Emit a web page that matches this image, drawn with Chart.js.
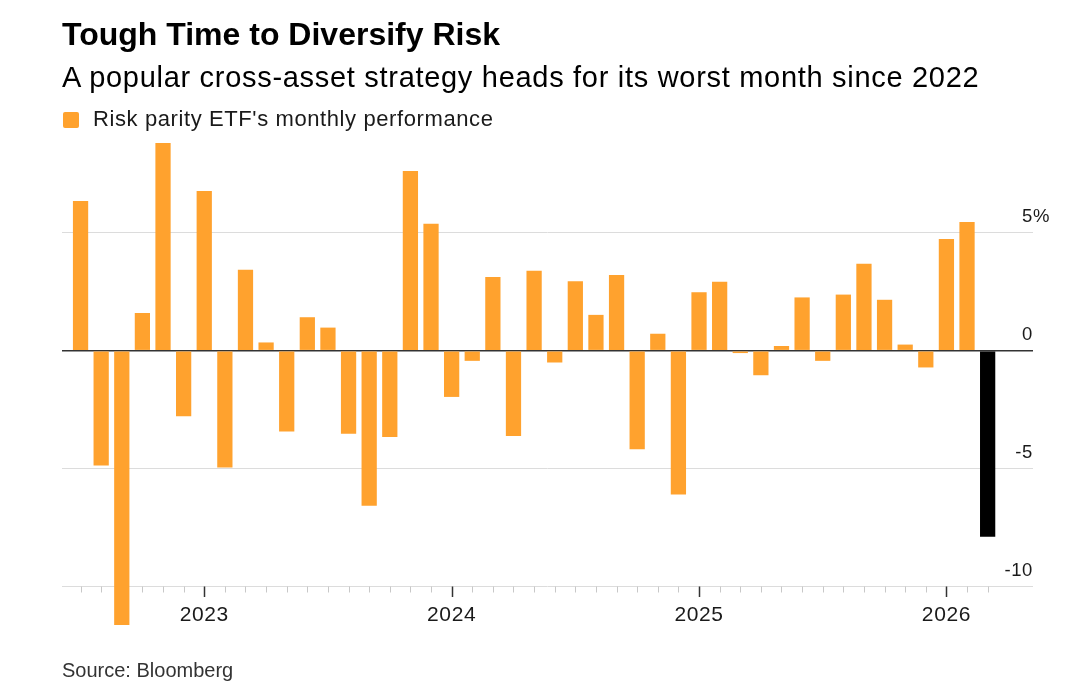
<!DOCTYPE html>
<html>
<head>
<meta charset="utf-8">
<script src="https://cdn.jsdelivr.net/npm/chart.js@4/dist/chart.umd.min.js"></script>
<style>
html, body { margin: 0; padding: 0; background: #fff; }
#wrap { position: relative; width: 1080px; height: 683px; overflow: hidden; }
#chart { position: absolute; left: 0; top: 0; }
.txt { position: absolute; left: 62px; white-space: nowrap; line-height: 1; font-family: "Liberation Sans", Arial, sans-serif; }
#title { top: 18px; font-size: 32px; font-weight: bold; color: #000; }
#sub { top: 62.7px; font-size: 29px; letter-spacing: 0.7px; color: #000; }
#legend { top: 107.5px; left: 93px; font-size: 22px; letter-spacing: 0.6px; color: #1a1a1a; }
#legendBox { position: absolute; left: 63px; top: 112px; width: 16px; height: 16px; border-radius: 2px; background: #ffa22e; }
#source { top: 659.8px; font-size: 20px; color: #333; }
</style>
</head>
<body>
<div id="wrap">
  <canvas id="chart" width="1080" height="683"></canvas>
  <div class="txt" id="title">Tough Time to Diversify Risk</div>
  <div class="txt" id="sub">A popular cross-asset strategy heads for its worst month since 2022</div>
  <div id="legendBox"></div>
  <div class="txt" id="legend">Risk parity ETF's monthly performance</div>
  <div class="txt" id="source">Source: Bloomberg</div>
</div>
<script>
'use strict';

// monthly bars, one per month (Jul 2022 .. Mar 2026)
var months = [
	'Jul 2022', 'Aug 2022', 'Sep 2022', 'Oct 2022', 'Nov 2022', 'Dec 2022',
	'Jan 2023', 'Feb 2023', 'Mar 2023', 'Apr 2023', 'May 2023', 'Jun 2023',
	'Jul 2023', 'Aug 2023', 'Sep 2023', 'Oct 2023', 'Nov 2023', 'Dec 2023',
	'Jan 2024', 'Feb 2024', 'Mar 2024', 'Apr 2024', 'May 2024', 'Jun 2024',
	'Jul 2024', 'Aug 2024', 'Sep 2024', 'Oct 2024', 'Nov 2024', 'Dec 2024',
	'Jan 2025', 'Feb 2025', 'Mar 2025', 'Apr 2025', 'May 2025', 'Jun 2025',
	'Jul 2025', 'Aug 2025', 'Sep 2025', 'Oct 2025', 'Nov 2025', 'Dec 2025',
	'Jan 2026', 'Feb 2026', 'Mar 2026'
];

// % change per month
var values = [
	6.35, -4.87, -11.63, 1.60, 8.81, -2.78,
	6.77, -4.95, 3.43, 0.35, -3.43, 1.42,
	0.98, -3.52, -6.58, -3.66, 7.62, 5.38,
	-1.96, -0.43, 3.13, -3.62, 3.39, -0.50,
	2.95, 1.52, 3.21, -4.18, 0.72, -6.10,
	2.48, 2.92, -0.10, -1.04, 0.20, 2.26,
	-0.43, 2.38, 3.69, 2.16, 0.26, -0.71,
	4.74, 5.46, -7.89
];

var yTickValues = [5, 0, -5, -10];
var yTickLabels = ['5%', '0', '-5', '-10'];

var barColor = '#ffa22e';
var currentColor = '#000000';

function isYearStart(i) {
	return months[i] && months[i].indexOf('Jan') === 0;
}

var axisMarks = {
	id: 'axisMarks',
	beforeDraw: function(chart) {
		chart.ctx.letterSpacing = '0.6px';
	},
	beforeDatasetsDraw: function(chart) {
		// month ticks under the bottom line, the January ones longer and darker
		var ctx = chart.ctx, x = chart.scales.x, area = chart.chartArea;
		ctx.save();
		for (var i = 0; i < months.length; i++) {
			var px = Math.round(x.getPixelForValue(i)) + 0.5;
			var year = isYearStart(i);
			ctx.strokeStyle = year ? '#333' : '#c8c8c8';
			ctx.lineWidth = year ? 1.5 : 1;
			ctx.beginPath();
			ctx.moveTo(px, area.bottom);
			ctx.lineTo(px, area.bottom + (year ? 10.5 : 6));
			ctx.stroke();
		}
		ctx.restore();
	},
	afterDraw: function(chart) {
		// y labels sit above their lines, right aligned to the plot edge
		var ctx = chart.ctx, y = chart.scales.y, right = chart.chartArea.right;
		ctx.save();
		ctx.font = '18.5px "Liberation Sans", Arial, sans-serif';
		ctx.fillStyle = '#1a1a1a';
		ctx.textBaseline = 'alphabetic';
		for (var i = 0; i < yTickValues.length; i++) {
			var py = y.getPixelForValue(yTickValues[i]) - 11;
			var lab = yTickLabels[i];
			var num = lab.replace('%', '');
			ctx.textAlign = 'right';
			ctx.fillText(num, right, py);
			if (num !== lab) {
				ctx.textAlign = 'left';
				ctx.fillText('%', right, py);
			}
		}
		ctx.restore();
	}
};

window.onload = function() {
	var ctx = document.getElementById('chart').getContext('2d');
	window.myBar = new Chart(ctx, {
		type: 'bar',
		data: {
			datasets: [{
				label: "Risk parity ETF's monthly performance",
				data: months.map(function(m, i) { return { x: i, y: values[i] }; }),
				backgroundColor: function(c) {
					return c.dataIndex === values.length - 1 ? currentColor : barColor;
				},
				borderWidth: 0,
				barPercentage: 0.74,
				categoryPercentage: 1,
				clip: false
			}]
		},
		options: {
			responsive: false,
			animation: false,
			layout: {
				padding: { left: 62, right: 47, top: 138.5, bottom: 56.5 }
			},
			plugins: {
				legend: { display: false },
				title: { display: false },
				tooltip: { enabled: false }
			},
			scales: {
				x: {
					type: 'linear',
					offset: false,
					min: -0.9,
					max: 46.2,
					grid: { display: false },
					border: { display: false },
					ticks: {
						stepSize: 1,
						autoSkip: false,
						maxRotation: 0,
						includeBounds: false,
						padding: 8,
						color: '#1a1a1a',
						font: { family: '"Liberation Sans", Arial, sans-serif', size: 21 },
						callback: function(v) {
							var i = Math.round(v);
							if (Math.abs(v - i) > 1e-6 || !isYearStart(i)) return '';
							return months[i].slice(4);
						}
					},
					afterFit: function(s) { s.height = 40; }
				},
				y: {
					position: 'right',
					min: -10,
					max: 9,
					border: { display: false },
					grid: {
						drawTicks: false,
						color: function(c) { return c.tick && c.tick.value === 0 ? '#333' : '#dcdcdc'; },
						lineWidth: function(c) { return c.tick && c.tick.value === 0 ? 1.6 : 1; }
					},
					ticks: { display: false, stepSize: 5, includeBounds: false },
					afterFit: function(s) { s.width = 0; }
				}
			}
		},
		plugins: [axisMarks]
	});
};
</script>
</body>
</html>
